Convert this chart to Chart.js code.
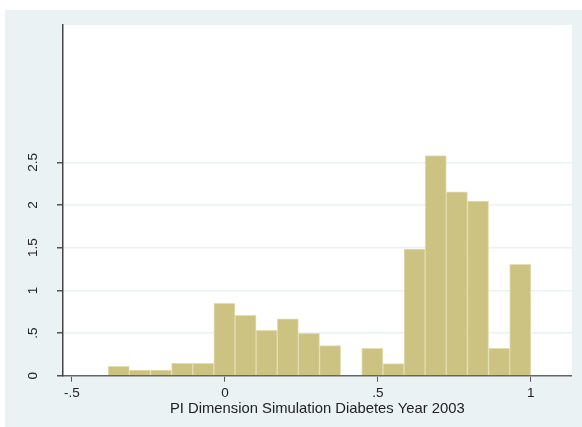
<!DOCTYPE html>
<html>
<head>
<meta charset="utf-8">
<script src="https://cdn.jsdelivr.net/npm/chart.js@4.4.1/dist/chart.umd.min.js"></script>
<style>
  html, body { margin: 0; padding: 0; background: #ffffff; }
  #wrap { width: 582px; height: 427px; }
</style>
</head>
<body>
<div id="wrap"><canvas id="hist"></canvas></div>
<script>
/* ── Données ──────────────────────────────────────────────────── */
// centres des classes de l'histogramme (largeur ~0.0691)
const binCenters = [
  -0.3471, -0.2780, -0.2089, -0.1398, -0.0707, -0.0016, 0.0675, 0.1366, 0.2057, 0.2748,
   0.3439,  0.4130,  0.4821,  0.5512,  0.6203,  0.6894, 0.7585, 0.8276, 0.8967, 0.9658,
];
// densités
const density = [
  0.110, 0.066, 0.066, 0.145, 0.145, 0.849, 0.708, 0.532, 0.668, 0.497,
  0.352, 0.000, 0.321, 0.141, 1.485, 2.579, 2.154, 2.048, 0.321, 1.306,
];
const xTicks      = [-0.5, 0, 0.5, 1];
const xTickLabels = ['-.5', '0', '.5', '1'];
const yTicks      = [0, 0.5, 1, 1.5, 2, 2.5];
const yTickLabels = ['0', '.5', '1', '1.5', '2', '2.5'];
const xTitle = 'PI Dimension Simulation Diabetes Year 2003';

/* ── Fond façon Stata (s2color) ───────────────────────────────── */
const stataBg = {
  id: 'stataBg',
  beforeDraw(chart) {
    const { ctx, chartArea: a, width, height } = chart;
    ctx.save();
    ctx.fillStyle = '#ffffff';
    ctx.fillRect(0, 0, width, height);
    ctx.fillStyle = '#eaf2f3';
    ctx.fillRect(5, 10, width - 5, height - 10);
    ctx.fillStyle = '#ffffff';
    ctx.fillRect(a.left, a.top, a.right - a.left, a.bottom - a.top);
    ctx.restore();
  },
};

const family = '"Liberation Sans", Arial, sans-serif';
const tickFont = { family, size: 13.5 };

new Chart(document.getElementById('hist'), {
  type: 'bar',
  data: {
    datasets: [{
      data: binCenters.map((x, i) => ({ x, y: density[i] })),
      backgroundColor: '#ccc282',
      borderColor: '#e4ddb2',
      borderWidth: 1,
      barPercentage: 1,
      categoryPercentage: 1,
    }],
  },
  options: {
    responsive: true, maintainAspectRatio: false, animation: false,
    layout: { padding: { left: 5, top: 25, right: 10.3, bottom: 0 } },
    plugins: { legend: { display: false }, tooltip: { enabled: false } },
    scales: {
      x: {
        type: 'linear', min: -0.5294, max: 1.134, offset: false,
        afterBuildTicks: s => { s.ticks = xTicks.map(v => ({ value: v })); },
        afterFit: s => { s.height = 51.3; },
        grid: { offset: false, drawOnChartArea: false, drawTicks: true, tickLength: 6, tickColor: '#555', lineWidth: 1 },
        border: { display: true, color: '#666', width: 1.5 },
        ticks: {
          color: '#222', font: tickFont, padding: 3, maxRotation: 0, autoSkip: false,
          callback: v => xTickLabels[xTicks.indexOf(v)],
        },
        title: {
          display: true, text: xTitle, color: '#222',
          font: { family, size: 14.8 }, padding: { top: 0, bottom: 9 },
        },
      },
      y: {
        min: 0, max: 4.111,
        afterBuildTicks: s => { s.ticks = yTicks.map(v => ({ value: v })); },
        afterFit: s => { s.width = 58; },
        grid: { color: '#eaf2f3', lineWidth: 1.5, drawTicks: true, tickLength: 6, tickColor: '#555' },
        border: { display: true, color: '#444', width: 1.5 },
        ticks: {
          color: '#222', font: tickFont, padding: 14, minRotation: 90, maxRotation: 90,
          crossAlign: 'center', autoSkip: false,
          callback: v => yTickLabels[yTicks.indexOf(v)],
        },
      },
    },
  },
  plugins: [stataBg],
});
</script>
</body>
</html>
